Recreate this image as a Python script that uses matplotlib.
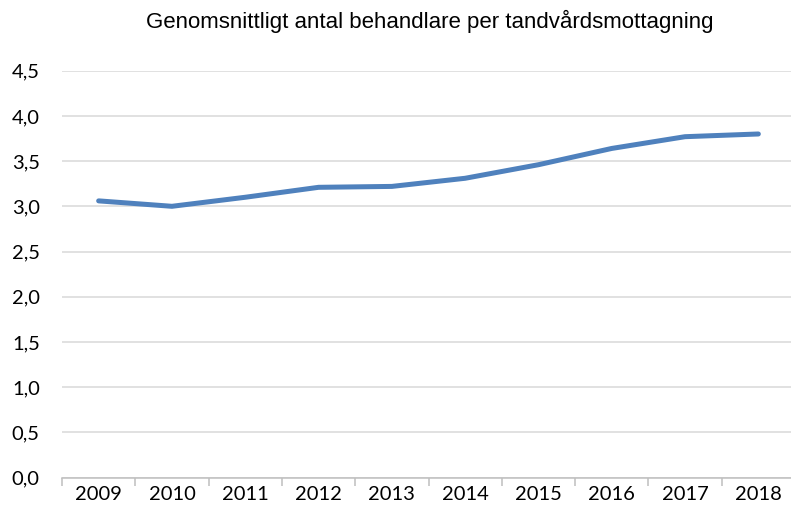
import matplotlib
matplotlib.use('Agg')
import matplotlib.pyplot as plt
from matplotlib.ticker import FuncFormatter, FixedLocator

plt.rcParams['font.family'] = ['Lato', 'DejaVu Sans']

years = ['2009', '2010', '2011', '2012', '2013', '2014', '2015', '2016', '2017', '2018']
behandlare = [3.06, 3.00, 3.10, 3.21, 3.22, 3.31, 3.46, 3.64, 3.77, 3.80]
yticks = [0.0, 0.5, 1.0, 1.5, 2.0, 2.5, 3.0, 3.5, 4.0, 4.5]

W, H = 791, 519
fig = plt.figure(figsize=(W / 100, H / 100), dpi=100)
ax = fig.add_axes([62 / W, 1 - 477.5 / H, (795 - 62) / W, (477.5 - 70.7) / H])

x = list(range(len(years)))
ax.plot(x, behandlare, color='#4F81BD', linewidth=3.6, solid_capstyle='round',
        solid_joinstyle='round', zorder=3)

ax.set_xlim(-0.5, len(years) - 0.5)
ax.set_ylim(0, 4.5)
ax.set_yticks(yticks)
ax.yaxis.set_major_formatter(FuncFormatter(lambda v, p: f'{v:.1f}'.replace('.', ',')))
ax.set_xticks(x)
ax.set_xticklabels(years)
ax.xaxis.set_minor_locator(FixedLocator([i - 0.5 for i in range(len(years) + 1)]))

ax.grid(axis='y', color='#D9D9D9', linewidth=1.1)
ax.set_axisbelow(True)
for s in ['top', 'right', 'left']:
    ax.spines[s].set_visible(False)
ax.spines['bottom'].set_color('#BFBFBF')
ax.spines['bottom'].set_linewidth(1.1)

ax.tick_params(axis='y', length=0, pad=16, labelsize=14.5, labelcolor='#000000')
ax.tick_params(axis='x', which='major', length=0, pad=6, labelsize=14.5)
ax.tick_params(axis='x', which='minor', length=6, width=1.1, color='#BFBFBF')

fig.text(430 / W, 1 - 21 / H, 'Genomsnittligt antal behandlare per tandvårdsmottagning',
         ha='center', va='center', fontsize=16, family=['Liberation Sans', 'DejaVu Sans'])

fig.savefig('out.png', dpi=100)
